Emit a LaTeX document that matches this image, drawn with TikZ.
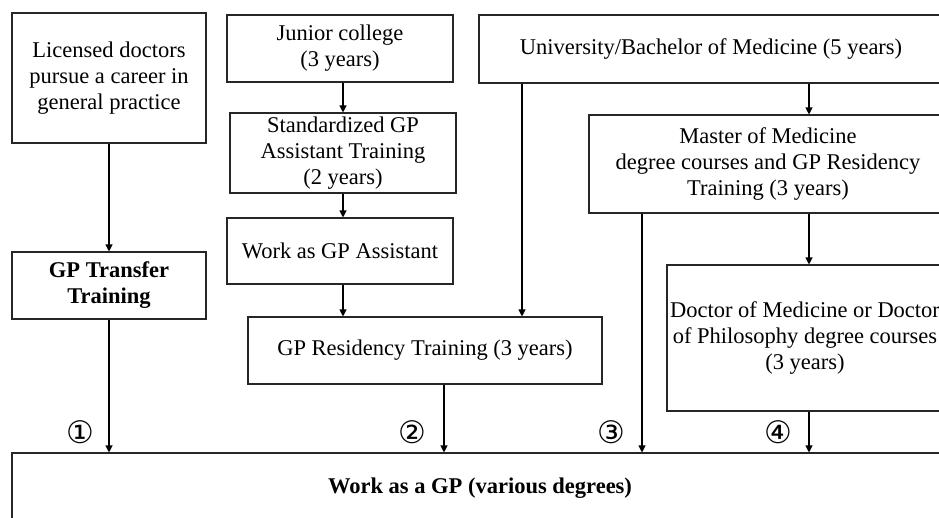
\documentclass[tikz,border=0pt]{standalone}
\usepackage{fontspec}
\setmainfont{Liberation Serif}
\newfontfamily\circfont{DejaVu Sans}
\usetikzlibrary{arrows.meta}
\begin{document}
\begin{tikzpicture}[x=1pt,y=-1pt,
  box/.style={draw=black!85, line width=1.1pt, inner sep=0pt, align=center,
    font=\fontsize{22.5}{26}\selectfont},
  arr/.style={line width=1.1pt, -{Triangle[length=7pt,width=7pt]}},
  num/.style={font=\circfont\fontsize{31}{31}\selectfont, inner sep=0pt}]
\useasboundingbox (0,0) rectangle (939,517);
\clip (0,0) rectangle (939,517);
\fill[white] (0,0) rectangle (939,517);
% coordinates for vertical connector lines
\coordinate (c1) at (109,0);
\coordinate (c2) at (444,0);
\coordinate (cU) at (522,0);
\coordinate (c3) at (642,0);
\coordinate (c4) at (809,0);
\coordinate (cA) at (343,0);
% boxes
\node[box, minimum width=194pt, minimum height=130pt] (lic) at (109,78)
  {Licensed doctors\\pursue a career in\\general practice};
\node[box, minimum width=194pt, minimum height=67pt, font=\fontsize{22.5}{26}\selectfont\bfseries] (trans) at (109,285.5)
  {GP Transfer\\Training};
\node[box, minimum width=226pt, minimum height=67pt] (jun) at (340,48.5)
  {Junior college\\(3 years)};
\node[box, minimum width=226pt, minimum height=80pt] (std) at (343,153)
  {Standardized GP\\Assistant Training\\(2 years)};
\node[box, minimum width=226pt, minimum height=66pt] (wga) at (340,251)
  {Work as GP Assistant};
\node[box, minimum width=354pt, minimum height=67pt] (res) at (425,350.5)
  {GP Residency Training (3 years)};
\node[box, minimum width=464pt, minimum height=68pt] (uni) at (711,49)
  {University/Bachelor of Medicine (5 years)};
\node[box, minimum width=358pt, minimum height=98pt] (mas) at (768,164)
  {Master of Medicine\\degree courses and GP Residency\\Training (3 years)};
\node[box, minimum width=276pt, minimum height=146pt] (doc) at (805,338)
  {Doctor of Medicine or Doctor\\of Philosophy degree courses\\(3 years)};
\node[box, minimum width=936pt, minimum height=70pt, font=\fontsize{22.5}{26}\selectfont\bfseries] (gp) at (480,488)
  {Work as a GP (various degrees)};
% connectors
\draw[arr] (lic.south) -- (trans.north);
\draw[arr] (jun.south -| cA) -- (std.north -| cA);
\draw[arr] (std.south -| cA) -- (wga.north -| cA);
\draw[arr] (wga.south -| cA) -- (res.north -| cA);
\draw[arr] (uni.south -| cU) -- (res.north -| cU);
\draw[arr] (uni.south -| c4) -- (mas.north -| c4);
\draw[arr] (mas.south -| c4) -- (doc.north -| c4);
\draw[arr] (trans.south -| c1) -- (gp.north -| c1);
\draw[arr] (res.south -| c2) -- (gp.north -| c2);
\draw[arr] (mas.south -| c3) -- (gp.north -| c3);
\draw[arr] (doc.south -| c4) -- (gp.north -| c4);
% labels
\node[num] (n1) at (80,432) {①};
\node[num] (n2) at (412,432) {②};
\node[num] (n3) at (611,432) {③};
\node[num] (n4) at (778,432) {④};
\end{tikzpicture}
\end{document}
